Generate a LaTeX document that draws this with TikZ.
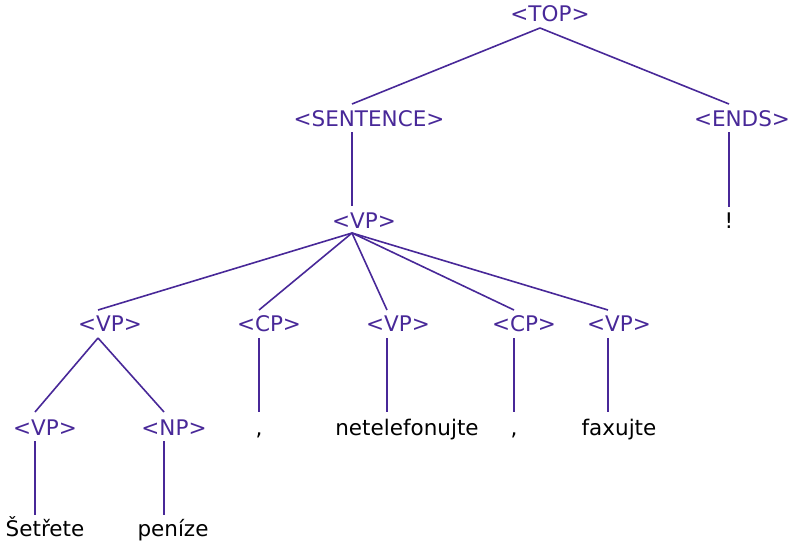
\documentclass[tikz,border=0pt]{standalone}
\usepackage{fontspec}
\setmainfont{DejaVu Sans}
\definecolor{treepurple}{RGB}{72,40,152}
\begin{document}
\begin{tikzpicture}[x=1pt,y=-1pt,
  lab/.style={anchor=base,inner sep=0pt,text=treepurple,font=\fontsize{21.5}{26}\selectfont},
  leaf/.style={anchor=base,inner sep=0pt,text=black,font=\fontsize{21.5}{26}\selectfont},
  edge/.style={draw=treepurple,line width=1.6pt}]
\useasboundingbox (0,0) rectangle (789,543);
% nodes
\node[lab] (top) at (550,22) {<TOP>};
\node[lab] (sent) at (369,126) {<SENTENCE>};
\node[lab] (ends) at (742,126) {<ENDS>};
\node[lab] (vp) at (364,228) {<VP>};
\node[leaf] (excl) at (729,228) {!};
\node[lab] (vpa) at (110,331) {<VP>};
\node[lab] (cpa) at (269,331) {<CP>};
\node[lab] (vpb) at (398,331) {<VP>};
\node[lab] (cpb) at (524,331) {<CP>};
\node[lab] (vpc) at (619,331) {<VP>};
\node[lab] (vpd) at (45,435) {<VP>};
\node[lab] (np) at (174,435) {<NP>};
\node[leaf] (comma1) at (259,435) {,};
\node[leaf] (netel) at (407,435) {netelefonujte};
\node[leaf] (comma2) at (514,435) {,};
\node[leaf] (fax) at (619,435) {faxujte};
\node[leaf] (setr) at (45,536) {Šetřete};
\node[leaf] (pen) at (173,536) {peníze};
% connectors
\draw[edge] ([xshift=-10pt,yshift=-6pt]top.base) -- ([xshift=-17pt,yshift=22pt]sent.base);
\draw[edge] ([xshift=-10pt,yshift=-6pt]top.base) -- ([xshift=-13pt,yshift=22pt]ends.base);
\draw[edge] ([xshift=-17pt,yshift=-6pt]sent.base) -- ([xshift=-12pt,yshift=22pt]vp.base);
\draw[edge] ([xshift=-13pt,yshift=-6pt]ends.base) -- ([xshift=0pt,yshift=21pt]excl.base);
\draw[edge] ([xshift=-12pt,yshift=-5pt]vp.base) -- ([xshift=-12pt,yshift=21pt]vpa.base);
\draw[edge] ([xshift=-12pt,yshift=-5pt]vp.base) -- ([xshift=-10pt,yshift=21pt]cpa.base);
\draw[edge] ([xshift=-12pt,yshift=-5pt]vp.base) -- ([xshift=-11pt,yshift=21pt]vpb.base);
\draw[edge] ([xshift=-12pt,yshift=-5pt]vp.base) -- ([xshift=-10pt,yshift=21pt]cpb.base);
\draw[edge] ([xshift=-12pt,yshift=-5pt]vp.base) -- ([xshift=-11pt,yshift=21pt]vpc.base);
\draw[edge] ([xshift=-12pt,yshift=-7pt]vpa.base) -- ([xshift=-10pt,yshift=23pt]vpd.base);
\draw[edge] ([xshift=-12pt,yshift=-7pt]vpa.base) -- ([xshift=-10pt,yshift=23pt]np.base);
\draw[edge] ([xshift=-10pt,yshift=-7pt]cpa.base) -- ([xshift=0pt,yshift=23pt]comma1.base);
\draw[edge] ([xshift=-11pt,yshift=-7pt]vpb.base) -- ([xshift=-20pt,yshift=23pt]netel.base);
\draw[edge] ([xshift=-10pt,yshift=-7pt]cpb.base) -- ([xshift=0pt,yshift=23pt]comma2.base);
\draw[edge] ([xshift=-11pt,yshift=-7pt]vpc.base) -- ([xshift=-11pt,yshift=23pt]fax.base);
\draw[edge] ([xshift=-10pt,yshift=-6pt]vpd.base) -- ([xshift=-10pt,yshift=21pt]setr.base);
\draw[edge] ([xshift=-10pt,yshift=-6pt]np.base) -- ([xshift=-9pt,yshift=21pt]pen.base);
\end{tikzpicture}
\end{document}
